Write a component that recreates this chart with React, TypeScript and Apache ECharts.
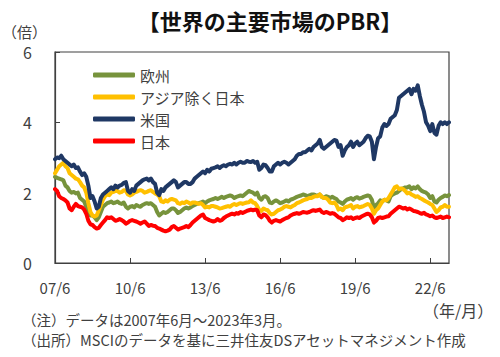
import React, { useEffect, useRef } from "react";
import * as echarts from "echarts";

const START_YEAR = 2007;
const START_MONTH = 6;
const END_YEAR = 2023;
const END_MONTH = 3;

const MONTHS: string[] = [];
{
  let y = START_YEAR;
  let m = START_MONTH;
  while (y < END_YEAR || (y === END_YEAR && m <= END_MONTH)) {
    MONTHS.push(`${String(y).slice(2)}/${m}`);
    m++;
    if (m > 12) {
      m = 1;
      y++;
    }
  }
}

const TICK_LABELS = ["07/6", "10/6", "13/6", "16/6", "19/6", "22/6"];
const Y_TICKS = [0, 2, 4, 6];

const SERIES_NAMES = ["欧州", "アジア除く日本", "米国", "日本"];

const EUROPE = [
  2.45, 2.42, 2.4, 2.38, 2.35, 2.2, 2.15,
  2.05, 2.0, 2.02, 1.98, 2.0, 1.85, 1.8, 1.75, 1.6, 1.45, 1.35, 1.35,
  1.3, 1.22, 1.3, 1.45, 1.6, 1.65, 1.7, 1.72, 1.75, 1.7, 1.72, 1.75,
  1.7, 1.68, 1.72, 1.6, 1.55, 1.6, 1.62, 1.58, 1.65, 1.62, 1.6, 1.65,
  1.68, 1.7, 1.68, 1.7, 1.65, 1.6, 1.45, 1.35, 1.4, 1.45, 1.42, 1.45,
  1.5, 1.55, 1.55, 1.5, 1.42, 1.45, 1.5, 1.55, 1.58, 1.55, 1.58, 1.62,
  1.65, 1.68, 1.7, 1.72, 1.75, 1.7, 1.75, 1.78, 1.8, 1.82, 1.85, 1.82,
  1.85, 1.88, 1.85, 1.88, 1.9, 1.92, 1.9, 1.85, 1.88, 1.9, 1.92, 1.9,
  1.95, 2.0, 2.05, 2.02, 2.0, 1.95, 2.0, 1.85, 1.8, 1.88, 1.9, 1.85,
  1.72, 1.7, 1.75, 1.78, 1.75, 1.7, 1.72, 1.75, 1.78, 1.75, 1.8, 1.82,
  1.85, 1.88, 1.9, 1.92, 1.95, 1.93, 1.9, 1.92, 1.95, 1.95, 1.93, 1.92,
  1.95, 1.88, 1.85, 1.9, 1.88, 1.85, 1.88, 1.85, 1.82, 1.75, 1.72, 1.68,
  1.75, 1.8, 1.82, 1.85, 1.8, 1.85, 1.87, 1.83, 1.85, 1.88, 1.9, 1.92,
  1.9, 1.8, 1.55, 1.65, 1.7, 1.78, 1.75, 1.8, 1.78, 1.75, 1.9, 1.95,
  1.98, 2.0, 2.05, 2.1, 2.12, 2.15, 2.15, 2.18, 2.1, 2.15, 2.12, 2.18,
  2.1, 2.05, 2.02, 2.0, 1.95, 1.85, 1.9, 1.75, 1.72, 1.8, 1.85, 1.88,
  1.92, 1.9, 1.93,
];

const ASIA_EX_JAPAN = [
  2.55, 2.65, 2.75, 2.8, 2.85, 2.75, 2.7,
  2.55, 2.5, 2.45, 2.4, 2.38, 2.3, 2.2, 2.15, 2.0, 1.7, 1.45, 1.35,
  1.32, 1.35, 1.5, 1.65, 1.8, 1.9, 1.95, 1.93, 2.0, 2.02, 2.05, 2.05,
  2.0, 2.02, 2.07, 2.05, 1.95, 1.92, 1.95, 2.0, 2.02, 2.05, 2.07, 2.05,
  2.0, 2.02, 2.05, 2.07, 2.02, 1.98, 1.95, 1.9, 1.75, 1.73, 1.78, 1.75,
  1.8, 1.82, 1.8, 1.78, 1.7, 1.68, 1.72, 1.7, 1.75, 1.72, 1.68, 1.72,
  1.72, 1.7, 1.68, 1.7, 1.65, 1.58, 1.6, 1.58, 1.62, 1.62, 1.6, 1.58,
  1.55, 1.56, 1.58, 1.6, 1.62, 1.6, 1.65, 1.68, 1.65, 1.68, 1.7, 1.68,
  1.7, 1.72, 1.73, 1.78, 1.72, 1.7, 1.62, 1.5, 1.48, 1.55, 1.52, 1.5,
  1.42, 1.38, 1.4, 1.45, 1.5, 1.52, 1.55, 1.6, 1.62, 1.6, 1.58, 1.62,
  1.65, 1.7, 1.72, 1.75, 1.78, 1.8, 1.82, 1.85, 1.85, 1.88, 1.9, 1.9,
  1.95, 1.88, 1.85, 1.85, 1.8, 1.72, 1.7, 1.72, 1.65, 1.52, 1.55, 1.5,
  1.58, 1.6, 1.62, 1.65, 1.55, 1.6, 1.62, 1.58, 1.6, 1.62, 1.65, 1.68,
  1.65, 1.55, 1.4, 1.5, 1.55, 1.65, 1.75, 1.8, 1.78, 1.85, 1.95, 2.05,
  2.15, 2.18, 2.1, 2.12, 2.1, 2.05, 1.98, 2.0, 1.95, 1.92, 1.88, 1.9,
  1.85, 1.82, 1.78, 1.75, 1.72, 1.68, 1.65, 1.55, 1.45, 1.5, 1.58, 1.6,
  1.65, 1.6, 1.6,
];

const USA = [
  2.95, 3.0, 2.98, 3.05, 2.95, 2.9, 2.85,
  2.8, 2.75, 2.8, 2.7, 2.72, 2.6, 2.5, 2.55, 2.45, 2.2, 1.85, 1.9,
  1.75, 1.55, 1.6, 1.85, 1.95, 2.0, 2.05, 2.1, 2.15, 2.1, 2.2, 2.15,
  2.2, 2.22, 2.28, 2.3, 2.05, 2.0, 2.1, 2.05, 2.2, 2.25, 2.3, 2.35,
  2.38, 2.4, 2.35, 2.4, 2.3, 2.25, 2.0, 1.93, 2.1, 2.05, 2.15, 2.2,
  2.25, 2.3, 2.35, 2.3, 2.15, 2.2, 2.25, 2.3, 2.3, 2.25, 2.25, 2.3,
  2.4, 2.45, 2.5, 2.55, 2.6, 2.55, 2.65, 2.6, 2.68, 2.7, 2.72, 2.75,
  2.7, 2.75, 2.78, 2.75, 2.8, 2.82, 2.8, 2.85, 2.8, 2.85, 2.88, 2.85,
  2.85, 2.9, 2.88, 2.87, 2.9, 2.85, 2.88, 2.65, 2.7, 2.8, 2.78, 2.7,
  2.6, 2.6, 2.75, 2.8, 2.85, 2.8, 2.85, 2.88, 2.85, 2.8, 2.85, 2.9,
  2.95, 3.05, 3.1, 3.1, 3.15, 3.15, 3.2, 3.25, 3.2, 3.3, 3.35, 3.4,
  3.5, 3.3, 3.25, 3.3, 3.35, 3.4, 3.45, 3.5, 3.48, 3.3, 3.35, 3.05,
  3.2, 3.3, 3.35, 3.45, 3.3, 3.4, 3.45, 3.35, 3.4, 3.45, 3.55, 3.62,
  3.6, 3.45, 2.95, 3.3, 3.55, 3.6, 3.85, 3.95, 3.9, 3.95, 4.1, 4.15,
  4.2, 4.35, 4.7, 4.75, 4.8, 4.85, 4.9, 4.95, 4.8, 4.95, 4.9, 5.05,
  4.75, 4.5, 4.3, 4.0, 3.9, 3.75, 3.95, 3.7, 3.65, 3.9, 4.0, 3.95,
  4.0, 3.95, 4.0,
];

const JAPAN = [
  2.1, 2.05, 1.9, 1.85, 1.82, 1.78, 1.72,
  1.55, 1.5, 1.6, 1.68, 1.62, 1.6, 1.58, 1.52, 1.4, 1.2, 1.1, 1.08,
  1.02, 0.98, 1.0, 1.08, 1.15, 1.22, 1.3, 1.28, 1.3, 1.25, 1.2, 1.22,
  1.25, 1.22, 1.18, 1.12, 1.15, 1.2, 1.22, 1.2, 1.18, 1.15, 1.12, 1.15,
  1.18, 1.12, 1.05, 1.08, 1.06, 1.05, 1.0, 0.98, 0.95, 0.92, 0.9, 0.92,
  0.95, 1.02, 1.05, 1.0, 0.95, 0.98, 1.0, 1.02, 1.05, 1.02, 1.08, 1.15,
  1.2, 1.25, 1.3, 1.35, 1.38, 1.28, 1.25, 1.22, 1.2, 1.18, 1.2, 1.25,
  1.2, 1.22, 1.28, 1.32, 1.35, 1.38, 1.4, 1.38, 1.42, 1.4, 1.45, 1.42,
  1.45, 1.48, 1.5, 1.52, 1.5, 1.52, 1.5, 1.35, 1.3, 1.38, 1.36, 1.3,
  1.2, 1.15, 1.2, 1.22, 1.2, 1.18, 1.22, 1.25, 1.28, 1.3, 1.35, 1.38,
  1.4, 1.42, 1.4, 1.42, 1.45, 1.44, 1.43, 1.45, 1.48, 1.5, 1.48, 1.5,
  1.52, 1.45, 1.42, 1.45, 1.43, 1.4, 1.42, 1.4, 1.35, 1.3, 1.28, 1.22,
  1.25, 1.3, 1.28, 1.3, 1.25, 1.28, 1.3, 1.28, 1.32, 1.35, 1.38, 1.4,
  1.38, 1.3, 1.15, 1.2, 1.28, 1.3, 1.28, 1.3, 1.32, 1.33, 1.4, 1.45,
  1.5, 1.55, 1.6, 1.58, 1.55, 1.57, 1.52, 1.55, 1.52, 1.48, 1.47, 1.45,
  1.42, 1.4, 1.43, 1.38, 1.36, 1.33, 1.35, 1.3, 1.28, 1.3, 1.32, 1.28,
  1.3, 1.32, 1.3,
];

const SERIES_DATA = [EUROPE, ASIA_EX_JAPAN, USA, JAPAN];
const COLORS = ["#77933C", "#FFC000", "#1F3864", "#FF0000"];

const FONT = '"Noto Sans CJK JP", "Noto Sans", sans-serif';
const TEXT_COLOR = "#404040";

export default function App() {
  const ref = useRef<HTMLDivElement>(null);

  useEffect(() => {
    if (!ref.current) return;
    const chart = echarts.init(ref.current, undefined, { renderer: "svg" });
    const tickEvery = 36;
    chart.setOption({
      animation: false,
      textStyle: { fontFamily: FONT },
      title: {
        text: "【世界の主要市場のPBR】",
        left: 265,
        textAlign: "center",
        top: 4,
        textStyle: { fontFamily: FONT, fontSize: 22, fontWeight: "bold", color: "#111" },
      },
      grid: {
        left: 55,
        right: 51,
        top: 52,
        bottom: 94,
        show: true,
        borderColor: TEXT_COLOR,
        borderWidth: 1.2,
        backgroundColor: "transparent",
      },
      legend: {
        orient: "vertical",
        left: 88,
        top: 62,
        itemWidth: 42,
        itemHeight: 5,
        itemGap: 6,
        icon: "roundRect",
        data: SERIES_NAMES,
        textStyle: { fontFamily: FONT, fontSize: 15, color: TEXT_COLOR, lineHeight: 16 },
      },
      xAxis: {
        type: "category",
        data: MONTHS,
        boundaryGap: false,
        axisLine: { show: true, lineStyle: { color: TEXT_COLOR, width: 1.2 } },
        axisTick: {
          show: true,
          inside: true,
          length: 5,
          interval: (i: number) => i % tickEvery === 0,
          lineStyle: { color: TEXT_COLOR },
        },
        axisLabel: {
          interval: (i: number) => i % tickEvery === 0,
          formatter: (_v: string, i: number) => TICK_LABELS[Math.round(i / tickEvery)] ?? "",
          fontFamily: FONT,
          fontSize: 15,
          color: TEXT_COLOR,
          margin: 17,
        },
        splitLine: { show: false },
      },
      yAxis: {
        type: "value",
        min: Y_TICKS[0],
        max: Y_TICKS[Y_TICKS.length - 1],
        interval: 2,
        axisLine: { show: true, lineStyle: { color: TEXT_COLOR, width: 1.2 } },
        axisTick: { show: true, inside: true, length: 5, lineStyle: { color: TEXT_COLOR } },
        axisLabel: { fontFamily: FONT, fontSize: 16, color: TEXT_COLOR, margin: 23 },
        splitLine: { show: false },
      },
      series: SERIES_NAMES.map((name, k) => ({
        name,
        type: "line",
        data: SERIES_DATA[k],
        showSymbol: false,
        symbol: "none",
        lineStyle: { width: 4, color: COLORS[k], join: "round", cap: "round" },
        itemStyle: { color: COLORS[k] },
      })),
      graphic: [
        {
          type: "text",
          left: 2,
          top: 24,
          style: { text: "（倍）", font: `15px ${FONT}`, fill: TEXT_COLOR },
        },
        {
          type: "text",
          left: 423,
          top: 302,
          style: { text: "（年/月）", font: `16px ${FONT}`, fill: TEXT_COLOR },
        },
        {
          type: "text",
          left: 22,
          top: 312,
          style: { text: "（注）データは2007年6月～2023年3月。", font: `14.5px ${FONT}`, fill: TEXT_COLOR },
        },
        {
          type: "text",
          left: 22,
          top: 332,
          style: {
            text: "（出所）MSCIのデータを基に三井住友DSアセットマネジメント作成",
            font: `14.5px ${FONT}`,
            fill: TEXT_COLOR,
          },
        },
      ],
    });
    return () => chart.dispose();
  }, []);

  return (
    <div
      ref={ref}
      style={{ position: "fixed", left: 0, top: 0, width: 500, height: 357, background: "#fff" }}
    />
  );
}
